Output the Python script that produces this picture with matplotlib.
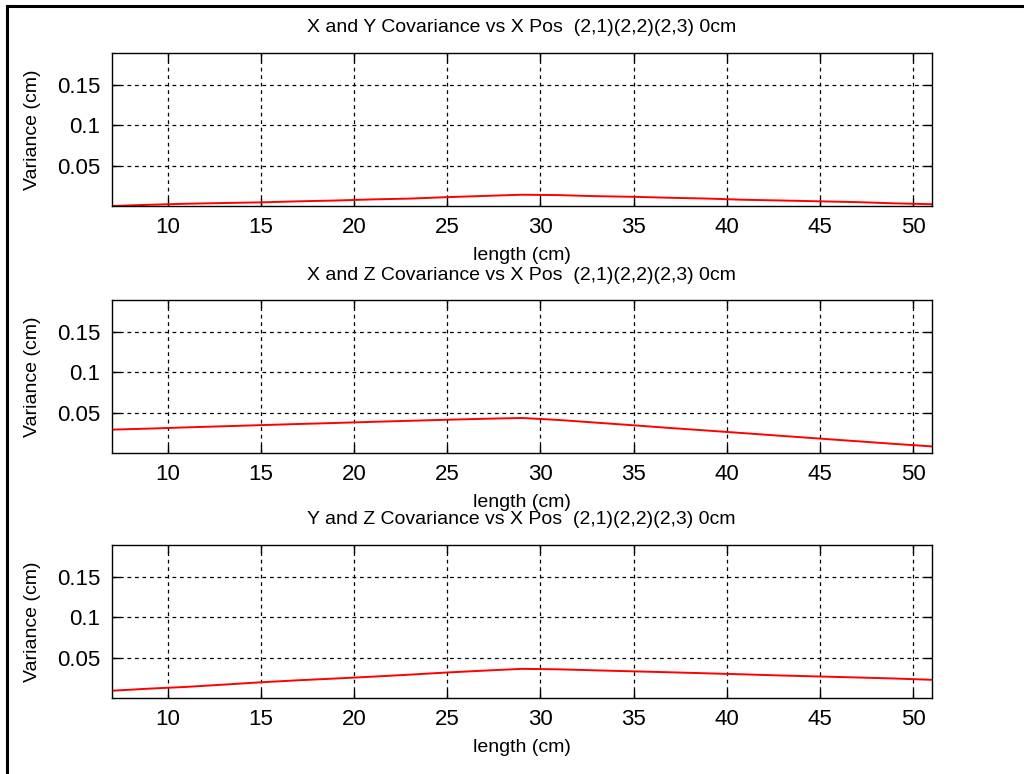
import matplotlib
matplotlib.use("Agg")
import matplotlib.pyplot as plt
from matplotlib.lines import Line2D

plt.rcParams['font.family'] = ['Liberation Sans', 'DejaVu Sans']

# sample positions along the bar (cm)
length = [7, 9, 11, 13, 15, 17, 19, 21, 23, 25, 27, 29, 31, 33, 35, 37, 39, 41, 43, 45, 47, 49, 51]

cov_xy = [0.0, 0.0015, 0.0028, 0.0037, 0.0045, 0.0058, 0.0068, 0.0082, 0.0092, 0.011, 0.0125, 0.014,
          0.0135, 0.0122, 0.0114, 0.0102, 0.0092, 0.0077, 0.0068, 0.0058, 0.0048, 0.0033, 0.0022]
cov_xz = [0.029, 0.0303, 0.0318, 0.0332, 0.0346, 0.036, 0.0373, 0.0387, 0.04, 0.0413, 0.0425, 0.0435,
          0.041, 0.0377, 0.0344, 0.031, 0.0278, 0.0245, 0.0212, 0.0179, 0.0146, 0.0113, 0.0082]
cov_yz = [0.009, 0.0116, 0.0138, 0.0166, 0.0195, 0.022, 0.0242, 0.0265, 0.029, 0.0317, 0.034, 0.0362,
          0.0356, 0.0343, 0.0331, 0.0319, 0.0306, 0.0293, 0.0279, 0.0267, 0.0255, 0.0242, 0.0226]

titles = ['X and Y Covariance vs X Pos  (2,1)(2,2)(2,3) 0cm',
          'X and Z Covariance vs X Pos  (2,1)(2,2)(2,3) 0cm',
          'Y and Z Covariance vs X Pos  (2,1)(2,2)(2,3) 0cm']
series = [cov_xy, cov_xz, cov_yz]

xticks = [10, 15, 20, 25, 30, 35, 40, 45, 50]
yticks = [0.05, 0.1, 0.15]
ytick_labels = ['0.05', '0.1', '0.15']

fig = plt.figure(figsize=(10.24, 7.74), dpi=100)
fig.patch.set_facecolor('white')

left = 111.7 / 1024
width = 820 / 1024
height = 153 / 774
bottoms = [1 - 206 / 774, 1 - 453 / 774, 1 - 698 / 774]

for title, vals, bottom in zip(titles, series, bottoms):
    ax = fig.add_axes([left, bottom, width, height])
    ax.plot(length, vals, color='red', lw=1.4)
    ax.set_xlim(7, 51)
    ax.set_ylim(0, 0.19)
    ax.set_xticks(xticks)
    ax.set_yticks(yticks)
    ax.set_yticklabels(ytick_labels)
    ax.grid(True, color='black', linestyle=(0, (3, 3)), lw=0.9)
    ax.tick_params(direction='in', top=True, right=True, length=6, width=1,
                   labelsize=16, pad=8, colors='black')
    for s in ax.spines.values():
        s.set_linewidth(1.0)
        s.set_color('black')
    ax.set_title(title, fontsize=14, y=1 + 25 / 153, va='center', pad=0)
    ax.set_xlabel('length (cm)', fontsize=14)
    ax.xaxis.set_label_coords(0.5, -0.265)
    ax.set_ylabel('Variance (cm)', fontsize=14)
    ax.yaxis.set_label_coords(-0.086, 0.5)

# window frame on the top and left edge
fig.add_artist(Line2D([7 / 1024, 7 / 1024], [0, 1 - 6 / 774], transform=fig.transFigure, color='black', lw=2.2))
fig.add_artist(Line2D([7 / 1024, 1], [1 - 6 / 774, 1 - 6 / 774], transform=fig.transFigure, color='black', lw=2.2))

fig.savefig('out.png', dpi=100)
